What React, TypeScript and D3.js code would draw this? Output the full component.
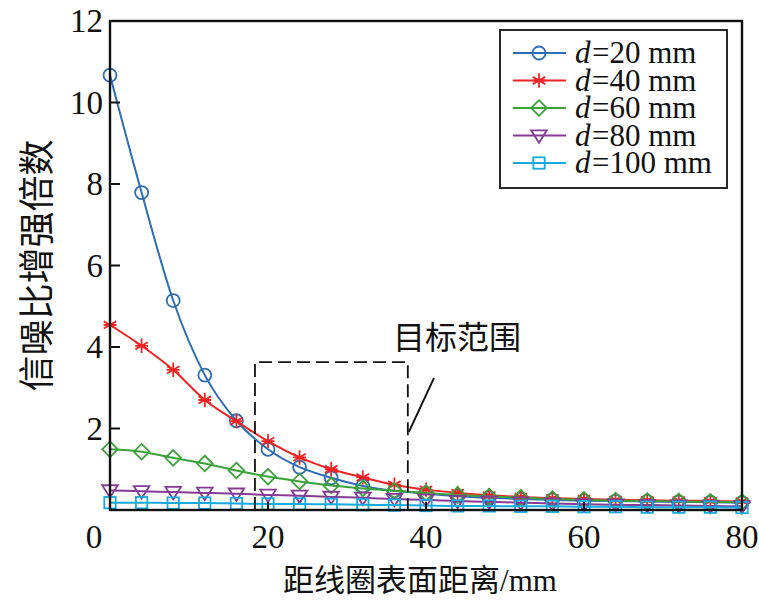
import React from "react";
import * as d3 from "d3";

const distances = [0, 4, 8, 12, 16, 20, 24, 28, 32, 36, 40, 44, 48, 52, 56, 60, 64, 68, 72, 76, 80];
const d20 = [10.67, 7.79, 5.14, 3.31, 2.19, 1.49, 1.05, 0.79, 0.59, 0.47, 0.4, 0.34, 0.3, 0.27, 0.25, 0.23, 0.22, 0.21, 0.2, 0.19, 0.18];
const d40 = [4.54, 4.03, 3.44, 2.7, 2.18, 1.69, 1.29, 1.0, 0.8, 0.62, 0.5, 0.42, 0.36, 0.32, 0.29, 0.27, 0.25, 0.24, 0.23, 0.22, 0.21];
const d60 = [1.49, 1.43, 1.28, 1.14, 0.97, 0.82, 0.7, 0.6, 0.53, 0.47, 0.42, 0.37, 0.33, 0.3, 0.27, 0.25, 0.23, 0.22, 0.21, 0.2, 0.19];
const d80 = [0.48, 0.46, 0.44, 0.42, 0.4, 0.37, 0.35, 0.32, 0.3, 0.27, 0.25, 0.22, 0.2, 0.18, 0.16, 0.14, 0.13, 0.12, 0.11, 0.1, 0.09];
const d100 = [0.18, 0.18, 0.17, 0.17, 0.16, 0.15, 0.15, 0.14, 0.13, 0.12, 0.11, 0.1, 0.1, 0.09, 0.09, 0.08, 0.08, 0.07, 0.07, 0.07, 0.06];

const seriesNames = ["20", "40", "60", "80", "100"];
const seriesValues = [d20, d40, d60, d80, d100];
const seriesColors = ["#2E6DB4", "#EE2424", "#3BA13B", "#853B96", "#17AADF"];
const seriesMarkers = ["circle", "star", "diamond", "triangle", "square"];

const xTicks = [0, 20, 40, 60, 80];
const yTicks = [0, 2, 4, 6, 8, 10, 12];

const xAxisTitle = "距线圈表面距离";
const xAxisUnit = "/mm";
const yAxisTitle = "信噪比增强倍数";
const targetLabel = "目标范围";
const targetRange = { x0: 18.35, x1: 37.7, top: 3.63 };

const W = 759;
const H = 603;
const L = 110, R = 742, T = 21, B = 510;

const serif = "'Liberation Serif', 'Times New Roman', serif";
const cjk = "'Noto Sans CJK SC', sans-serif";

function Marker({ type, x, y, color }: { type: string; x: number; y: number; color: string }) {
  const sw = 1.8;
  if (type === "circle") return <circle cx={x} cy={y} r={6.5} fill="none" stroke={color} strokeWidth={sw} />;
  if (type === "square") return <rect x={x - 5.7} y={y - 5.7} width={11.4} height={11.4} fill="none" stroke={color} strokeWidth={sw} />;
  if (type === "diamond")
    return <path d={`M${x},${y - 7.8}L${x + 7.8},${y}L${x},${y + 7.8}L${x - 7.8},${y}Z`} fill="none" stroke={color} strokeWidth={sw} />;
  if (type === "triangle")
    return <path d={`M${x - 7.8},${y - 5.2}L${x + 7.8},${y - 5.2}L${x},${y + 7.2}Z`} fill="none" stroke={color} strokeWidth={sw} />;
  const r = 7.2;
  const segs = [0, 60, 120].map((a) => {
    const rad = (a * Math.PI) / 180 + Math.PI / 2;
    const dx = Math.cos(rad) * r, dy = Math.sin(rad) * r;
    return `M${x - dx},${y - dy}L${x + dx},${y + dy}`;
  });
  segs.push(`M${x - r * 0.9},${y}L${x + r * 0.9},${y}`);
  return <path d={segs.join("")} fill="none" stroke={color} strokeWidth={sw} />;
}

export default function App() {
  const x = d3.scaleLinear().domain([0, 80]).range([L, R]);
  const y = d3.scaleLinear().domain([0, 12]).range([B, T]);
  const line = d3
    .line<number>()
    .x((_, i) => x(distances[i]))
    .y((v) => y(v))
    .curve(d3.curveMonotoneX);

  const legX = 500, legY = 30, legW = 227, legH = 158;
  const rowY = (i: number) => 53 + i * 27.5;

  return (
    <svg width={W} height={H} style={{ position: "absolute", left: 0, top: 0, background: "#fff" }}>
      <rect x={0} y={0} width={W} height={H} fill="#fff" />
      {seriesValues.map((vals, s) => (
        <g key={s}>
          <path d={line(vals) || ""} fill="none" stroke={seriesColors[s]} strokeWidth={2} />
          {vals.map((v, i) => (
            <Marker key={i} type={seriesMarkers[s]} x={x(distances[i])} y={y(v)} color={seriesColors[s]} />
          ))}
        </g>
      ))}

      <path
        d={`M${x(targetRange.x0)},${B}L${x(targetRange.x0)},${y(targetRange.top)}L${x(targetRange.x1)},${y(targetRange.top)}L${x(targetRange.x1)},${B}`}
        fill="none"
        stroke="#111"
        strokeWidth={1.8}
        strokeDasharray="13,6"
      />
      <line x1={x(targetRange.x1) + 1} y1={432} x2={434} y2={378} stroke="#111" strokeWidth={1.8} />
      <text x={393} y={349} fontFamily={cjk} fontSize={32} fill="#111">
        {targetLabel}
      </text>

      <rect x={L} y={T} width={R - L} height={B - T} fill="none" stroke="#111" strokeWidth={2.4} />
      {yTicks.map((t) => (
        <g key={t}>
          <line x1={L} x2={L + 10} y1={y(t)} y2={y(t)} stroke="#111" strokeWidth={2} />
          {t !== 0 && (
            <text x={103} y={y(t) + 11} textAnchor="end" fontFamily={serif} fontSize={33} fill="#111">
              {t}
            </text>
          )}
        </g>
      ))}
      {xTicks.map((t) => (
        <g key={t}>
          <line x1={x(t)} x2={x(t)} y1={B} y2={B - 8} stroke="#111" strokeWidth={2} />
          <text x={t === 0 ? 94 : x(t)} y={548} textAnchor="middle" fontFamily={serif} fontSize={33} fill="#111">
            {t}
          </text>
        </g>
      ))}

      <text x={(L + R) / 2 - 6} y={591} textAnchor="middle" fontSize={31} fill="#111">
        <tspan fontFamily={cjk}>{xAxisTitle}</tspan>
        <tspan fontFamily={serif}>{xAxisUnit}</tspan>
      </text>
      <text
        transform={`translate(50, ${(T + B) / 2}) rotate(-90)`}
        textAnchor="middle"
        fontFamily={cjk}
        fontSize={36}
        fill="#111"
      >
        {yAxisTitle}
      </text>

      <rect x={legX} y={legY} width={legW} height={legH} fill="#fff" stroke="#111" strokeWidth={1.8} />
      {seriesNames.map((n, i) => (
        <g key={n}>
          <line x1={513} x2={566} y1={rowY(i)} y2={rowY(i)} stroke={seriesColors[i]} strokeWidth={2} />
          <Marker type={seriesMarkers[i]} x={539} y={rowY(i)} color={seriesColors[i]} />
          <text x={575} y={rowY(i) + 10} fontFamily={serif} fontStyle="italic" fontSize={31} fill="#111">
            d
          </text>
          <text x={592} y={rowY(i) + 10} fontFamily={serif} fontSize={31} fill="#111">
            {`=${n} mm`}
          </text>
        </g>
      ))}
    </svg>
  );
}
